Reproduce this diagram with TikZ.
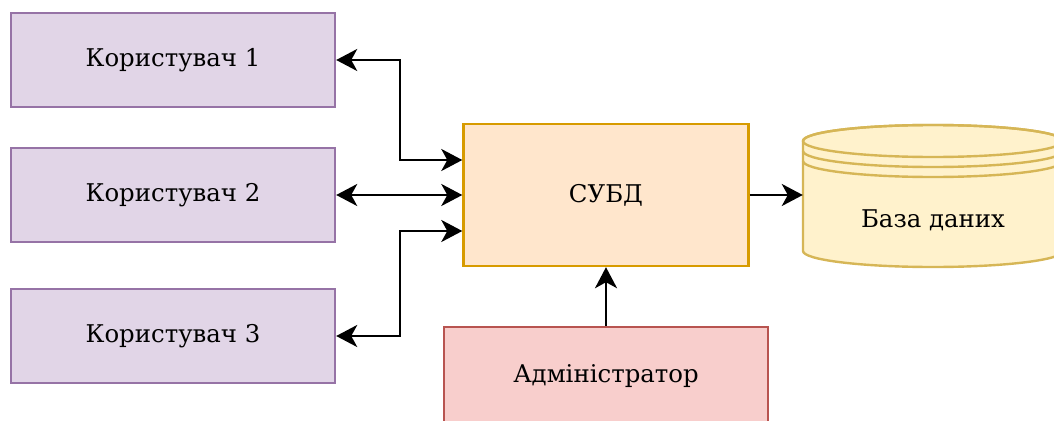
\documentclass[tikz,border=0pt]{standalone}
\usepackage{fontspec}
\setmainfont{DejaVu Serif}
\usetikzlibrary{arrows.meta}
\definecolor{userfill}{HTML}{E1D5E7}\definecolor{userline}{HTML}{9673A6}
\definecolor{dbmsfill}{HTML}{FFE6CC}\definecolor{dbmsline}{HTML}{D79B00}
\definecolor{adminfill}{HTML}{F8CECC}\definecolor{adminline}{HTML}{B85450}
\definecolor{storefill}{HTML}{FFF2CC}\definecolor{storeline}{HTML}{D6B656}
\tikzset{
  label font/.style={font=\fontsize{24.4}{28}\selectfont},
  box/.style={rectangle, line width=2.4pt, inner sep=0pt, label font},
  userbox/.style={box, draw=userline, fill=userfill, minimum width=324pt, minimum height=94pt},
  link/.style={line width=2.7pt, {Stealth[length=21pt,width=22pt,inset=6pt]}-{Stealth[length=21pt,width=22pt,inset=6pt]}},
  flow/.style={line width=2.7pt, -{Stealth[length=21pt,width=22pt,inset=6pt]}},
  storeline/.style={line width=2.4pt, draw=storeline},
}
\begin{document}
\begin{tikzpicture}[x=1pt,y=-1pt]
\useasboundingbox (0,0) rectangle (1054,420);
\clip (0,0) rectangle (1054,420);
% users
\node[userbox] (u1) at (173,60) {Користувач 1};
\node[userbox] (u2) at (173,195) {Користувач 2};
\node[userbox] (u3) at (173,336) {Користувач 3};
% DBMS
\node[box, draw=dbmsline, fill=dbmsfill, minimum width=285pt, minimum height=142pt] (dbms) at (606,195) {СУБД};
% administrator
\node[box, draw=adminline, fill=adminfill, minimum width=324pt, minimum height=98pt] (admin) at (606,376) {Адміністратор};
% database store (cylinder)
\node[rectangle, minimum width=260pt, minimum height=142pt, inner sep=0pt] (db) at (933,195) {};
\filldraw[storeline, fill=storefill]
  (803,141) -- (803,251) arc[start angle=180, end angle=360, x radius=130pt, y radius=16pt]
  -- (1063,141) arc[start angle=0, end angle=180, x radius=130pt, y radius=16pt] -- cycle;
\draw[storeline] (933,141) ellipse[x radius=130pt, y radius=16pt];
\draw[storeline] (803,151) arc[start angle=180, end angle=360, x radius=130pt, y radius=16pt];
\draw[storeline] (803,161) arc[start angle=180, end angle=360, x radius=130pt, y radius=16pt];
\node[label font] (dbl) at (933,220) {База даних};
% connectors
\coordinate (in1) at ([yshift=35pt]dbms.west);
\coordinate (in3) at ([yshift=-36pt]dbms.west);
\draw[link] (u1.east) -- (400,60) |- (in1);
\draw[link] (u2.east) -- (dbms.west);
\draw[link] (u3.east) -- (400,336) |- (in3);
\draw[flow] (dbms.east) -- (db.west);
\draw[flow] (admin.north) -- (dbms.south);
\end{tikzpicture}
\end{document}
